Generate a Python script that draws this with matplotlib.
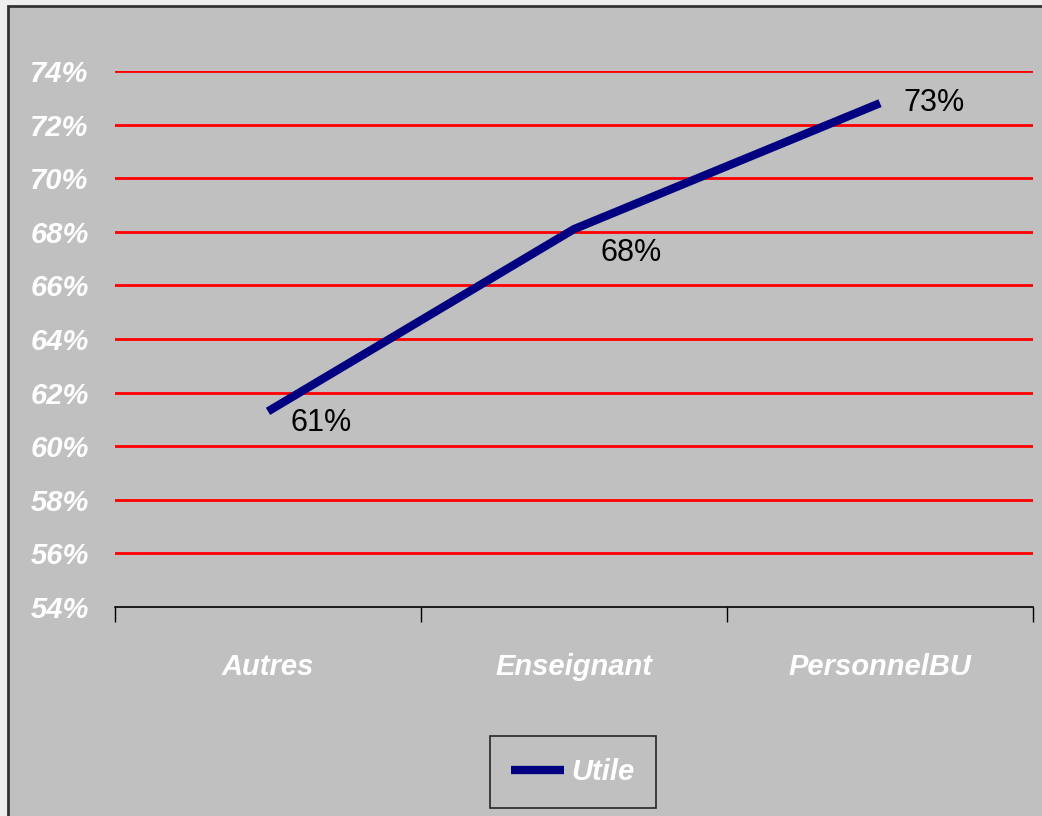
import numpy as np
import matplotlib
matplotlib.use('Agg')
from matplotlib import pyplot as plt
from matplotlib.patches import Rectangle
from matplotlib.ticker import FuncFormatter

#%% Data

categories = ['Autres', 'Enseignant', 'PersonnelBU']
utile      = [0.613, 0.681, 0.728]
labels     = ['61%', '68%', '73%']
y_ticks    = np.arange(0.54, 0.7401, 0.02)

#%% Plot

plt.rcParams['font.family'] = ['Liberation Sans', 'DejaVu Sans']
fs = 21

fig = plt.figure(figsize=(10.42, 8.16), dpi=100, facecolor='#eeeeee')
fig.patches.append(Rectangle((8/1042, -0.1), 1.2, 1 - 6/816 + 0.1, transform=fig.transFigure,
                             facecolor='#c0c0c0', edgecolor='#333333', lw=2, zorder=-5))

ax = fig.add_axes([115/1042, 1 - 607/816, 918/1042, 536/816])
ax.set_facecolor('#c0c0c0')
ax.set_zorder(1)
x = np.arange(len(categories))

for yv in y_ticks[1:]:
    ax.axhline(yv, color='#ff0000', lw=2, zorder=1)

ax.plot(x, utile, color='#000080', lw=6, solid_capstyle='butt', zorder=3, label='Utile')

offsets = [(22, -12), (27, -24), (23, 0)]
for xi, yi, lab, off in zip(x, utile, labels, offsets):
    ax.annotate(lab, (xi, yi), xytext=off, textcoords='offset pixels',
                ha='left', va='center', fontsize=fs + 1, color='black')

ax.set_xlim(-0.5, 2.5)
ax.set_ylim(0.54, 0.74)
ax.set_yticks(y_ticks)
ax.yaxis.set_major_formatter(FuncFormatter(lambda v, p: '{:.0f}%'.format(v*100)))
ax.tick_params(axis='y', length=0, pad=19, labelsize=fs, labelcolor='white')
for t in ax.get_yticklabels():
    t.set_fontweight('bold')
    t.set_fontstyle('italic')

ax.set_xticks(x)
ax.set_xticklabels(categories, fontsize=fs, color='white', fontweight='bold', fontstyle='italic')
ax.set_xticks([-0.5, 0.5, 1.5, 2.5], minor=True)
ax.tick_params(axis='x', which='major', length=0, pad=33)
ax.tick_params(axis='x', which='minor', length=11, width=1, color='black', direction='out')

for s in ['top', 'right', 'left']:
    ax.spines[s].set_visible(False)
ax.spines['bottom'].set_linewidth(1.2)
ax.spines['bottom'].set_color('black')

leg = fig.legend(loc='center', bbox_to_anchor=(573/1042, 1 - 772/816), frameon=True,
                 fancybox=False, handlelength=1.8, handletextpad=0.25, borderpad=0.75,
                 borderaxespad=0, prop={'size': fs, 'weight': 'bold', 'style': 'italic'})
leg.get_frame().set_facecolor('#c0c0c0')
leg.get_frame().set_edgecolor('black')
leg.get_frame().set_linewidth(1.2)
for t in leg.get_texts():
    t.set_color('white')

fig.savefig('out.png', dpi=100, facecolor=fig.get_facecolor())
